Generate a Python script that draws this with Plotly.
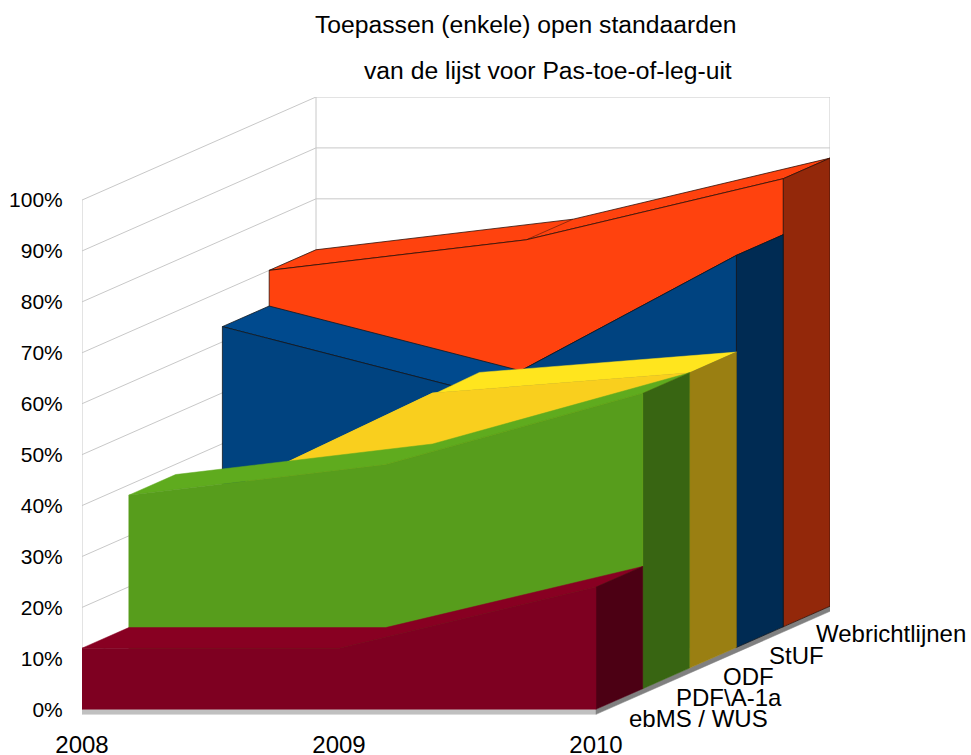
import plotly.graph_objects as go

# Data
years = ["2008", "2009", "2010"]
series_names = ["ebMS / WUS", "PDF\\A-1a", "ODF", "StUF", "Webrichtlijnen"]
ebms = [12, 12, 24]
pdfa = [38, 44, 58]
odf = [30, 54, 58]
stuf = [63, 50, 77]
webrichtlijnen = [70, 76, 88]
percent_ticks = [0, 10, 20, 30, 40, 50, 60, 70, 80, 90, 100]
title_lines = ["Toepassen (enkele) open standaarden", "van de lijst voor Pas-toe-of-leg-uit"]

all_values = [ebms, pdfa, odf, stuf, webrichtlijnen]
front_colors = ["#7E0021", "#579D1C", "#F9CF1E", "#004380", "#FF420E"]
top_colors = ["#880022", "#5FAB1E", "#FFE51E", "#004A8E", "#FF420E"]
side_colors = ["#4C0014", "#386512", "#9A7F12", "#002B53", "#93280A"]
line_colors = [None, None, None, "#101820", "#301008"]

# Oblique projection: one depth step moves along the axes by these amounts
PX_YEAR, PX_PCT = 257.0, 5.09
DX, DY = 46.8 / PX_YEAR, 20.6 / PX_PCT
DEPTH = len(all_values)
GRID = "#C8C8C8"
YMIN = -2.5


def proj(i, v, d):
    return i + d * DX, v + d * DY


def poly(fig, pts, color, line=None, width=1):
    xs = [p[0] for p in pts] + [pts[0][0]]
    ys = [p[1] for p in pts] + [pts[0][1]]
    fig.add_trace(go.Scatter(
        x=xs, y=ys, mode="lines", fill="toself", fillcolor=color,
        line=dict(color=line or color, width=width if line else 0.5),
        hoverinfo="skip", showlegend=False))


def seg(fig, a, b, color=GRID, width=1):
    fig.add_trace(go.Scatter(x=[a[0], b[0]], y=[a[1], b[1]], mode="lines",
                             line=dict(color=color, width=width),
                             hoverinfo="skip", showlegend=False))


fig = go.Figure()
last = len(years) - 1

# Walls and grid
for t in percent_ticks:
    seg(fig, proj(0, t, 0), proj(0, t, DEPTH))
    seg(fig, proj(0, t, DEPTH), proj(last, t, DEPTH))
seg(fig, proj(0, 0, 0), proj(0, 100, 0))
seg(fig, proj(0, 0, DEPTH), proj(0, 100, DEPTH))
seg(fig, proj(last, 0, DEPTH), proj(last, 100, DEPTH))

# Floor slab
SLAB = 1.0
poly(fig, [proj(0, 0, 0), proj(last, 0, 0), proj(last, -SLAB, 0), proj(0, -SLAB, 0)], "#C0C0C0")
poly(fig, [proj(last, 0, 0), proj(last, 0, DEPTH), proj(last, -SLAB, DEPTH), proj(last, -SLAB, 0)], "#808080")

# Series, back to front
for s in range(len(all_values) - 1, -1, -1):
    vals = all_values[s]
    lc = line_colors[s]
    top = [proj(i, vals[i], s) for i in range(len(vals))] + \
          [proj(i, vals[i], s + 1) for i in range(len(vals) - 1, -1, -1)]
    poly(fig, top, top_colors[s], lc, 0.8)
    if lc:
        for i in range(1, last):
            seg(fig, proj(i, vals[i], s), proj(i, vals[i], s + 1), lc, 0.5)
    poly(fig, [proj(last, 0, s), proj(last, vals[last], s),
               proj(last, vals[last], s + 1), proj(last, 0, s + 1)], side_colors[s], lc, 0.8)
    front = [proj(i, 0, s) for i in range(len(vals))][::-1] + [proj(i, vals[i], s) for i in range(len(vals))]
    poly(fig, front, front_colors[s], lc, 0.8)

annotations = []
for s, name in enumerate(series_names):
    x, y = proj(last, -1.8, s)
    annotations.append(dict(x=x + 31 / PX_YEAR, y=y + s * 0.1, text=name, xref="x", yref="y",
                            xanchor="left", yanchor="middle", showarrow=False,
                            font=dict(size=24, color="#000000")))
W, H = 971, 755
L, R, T = 82, 141, 97
B = 46 + YMIN * PX_PCT
for line, cx, cy in zip(title_lines, (525, 548), (25, 71)):
    annotations.append(dict(x=(cx - L) / (W - L - R), y=1 - (cy - T) / (H - T - B),
                            xref="paper", yref="paper", text=line,
                            xanchor="center", yanchor="middle", showarrow=False,
                            font=dict(size=24.7, color="#000000")))

fig.update_layout(
    width=W, height=H, margin=dict(l=L, r=R, t=T, b=B, autoexpand=False),
    paper_bgcolor="white", plot_bgcolor="white",
    font=dict(family="Liberation Sans, Arial, sans-serif", color="#000000"),
    annotations=annotations, showlegend=False,
    xaxis=dict(range=[0, (W - L - R) / PX_YEAR], tickmode="array",
               tickvals=list(range(len(years))), ticktext=years, showgrid=False, zeroline=False,
               showline=False, ticks="outside", ticklen=1.5, tickcolor="rgba(0,0,0,0)",
               tickfont=dict(size=24), automargin=False),
    yaxis=dict(range=[YMIN, YMIN + (H - T - B) / PX_PCT], tickmode="array",
               tickvals=percent_ticks, ticktext=[f"{t}%" for t in percent_ticks],
               showgrid=False, zeroline=False, showline=False, ticks="outside", ticklen=14,
               tickcolor="rgba(0,0,0,0)", tickfont=dict(size=21), automargin=False),
)
for tr in fig.data:
    tr.cliponaxis = False

fig.write_html("out.html", config={"displayModeBar": False},
               post_script="document.body.style.margin='0';")
